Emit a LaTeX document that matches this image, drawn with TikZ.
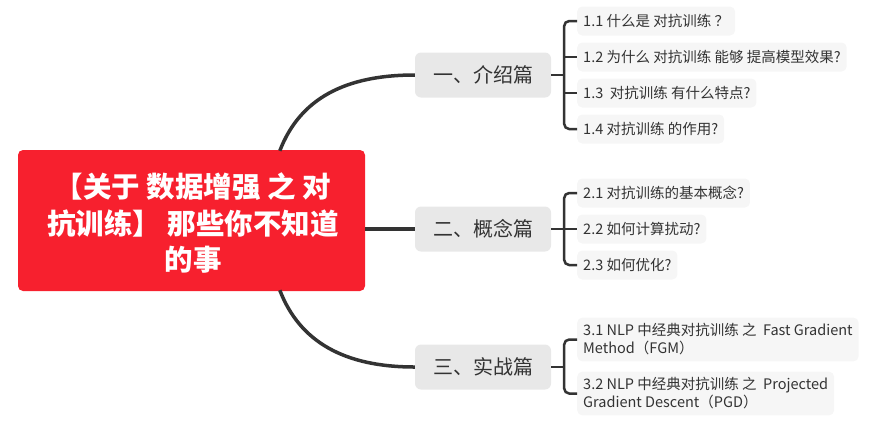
\documentclass[tikz,border=0pt]{standalone}
\usepackage{fontspec}
\setmainfont{Noto Sans CJK SC}
\usetikzlibrary{calc}
\definecolor{rootred}{RGB}{247,32,46}
\definecolor{branchgray}{RGB}{232,232,232}
\definecolor{leafgray}{RGB}{246,246,246}
\definecolor{linec}{RGB}{51,51,51}
\definecolor{txt}{RGB}{51,51,51}
\begin{document}
\begin{tikzpicture}[x=1pt,y=-1pt,
 rootbox/.style={fill=rootred, rounded corners=5pt, minimum width=347pt, minimum height=141pt, inner sep=0pt},
 roottext/.style={text=white, align=center, inner sep=0pt, font=\fontsize{28.5}{36.5}\selectfont\bfseries},
 branchbox/.style={fill=branchgray, rounded corners=6pt, minimum width=136pt, minimum height=45pt, inner sep=0pt, text=txt, font=\fontsize{20}{24}\selectfont},
 leafbox/.style={fill=leafgray, rounded corners=5pt, anchor=west, minimum height=29pt, inner xsep=6pt, inner ysep=6pt, text=txt, font=\fontsize{14.5}{18}\selectfont, align=left},
 mainline/.style={draw=linec, line width=3.5pt},
 brline/.style={draw=linec, line width=2.5pt, rounded corners=5pt}]
\useasboundingbox (0,0) rectangle (877,432);
\node[rootbox] (root) at (191.5,220.5) {};
\node[roottext] (rt) at (193,223) {【关于 数据增强 之 对\\抗训练】 那些你不知道\\的事};
\node[branchbox] (b1) at (483,75) {一、介绍篇};
\node[branchbox] (b2) at (483,229) {二、概念篇};
\node[branchbox] (b3) at (483,367) {三、实战篇};
\node[leafbox] (l11) at (577,21) {1.1 什么是 对抗训练 ？};
\node[leafbox] (l12) at (577,57) {1.2 为什么 对抗训练 能够 提高模型效果?};
\node[leafbox] (l13) at (577,93) {1.3\ \ 对抗训练 有什么特点?};
\node[leafbox] (l14) at (577,129) {1.4 对抗训练 的作用?};
\node[leafbox] (l21) at (577,193) {2.1 对抗训练的基本概念?};
\node[leafbox] (l22) at (577,229) {2.2 如何计算扰动?};
\node[leafbox] (l23) at (577,265) {2.3 如何优化?};
\node[leafbox] (l31) at (577,339.5) {3.1 NLP 中经典对抗训练 之\ \ Fast Gradient\\Method（FGM）};
\node[leafbox] (l32) at (577,393.5) {3.2 NLP 中经典对抗训练 之\ \ Projected\\Gradient Descent（PGD）};
% main connectors
\draw[mainline] ($(root.north west)+(262,1)$) .. controls +(20,-52) and +(-70,0) .. (b1.west);
\draw[mainline] (root.east |- b2.west) -- (b2.west);
\draw[mainline] ($(root.south west)+(262,-1)$) .. controls +(20,52) and +(-70,0) .. (b3.west);
% brackets
\coordinate (j1) at ($(b1.east)+(13,0)$);
\coordinate (j2) at ($(b2.east)+(13,0)$);
\coordinate (j3) at ($(b3.east)+(13,0)$);
\draw[brline] (b1.east) -- (j1);
\draw[brline] (l11.west) -| (j1) |- (l14.west);
\draw[brline] (j1 |- l12.west) -- (l12.west);
\draw[brline] (j1 |- l13.west) -- (l13.west);
\draw[brline] (b2.east) -- (j2);
\draw[brline] (l21.west) -| (j2) |- (l23.west);
\draw[brline] (j2 |- l22.west) -- (l22.west);
\draw[brline] (b3.east) -- (j3);
\draw[brline] (l31.west) -| (j3) |- (l32.west);
\end{tikzpicture}
\end{document}
